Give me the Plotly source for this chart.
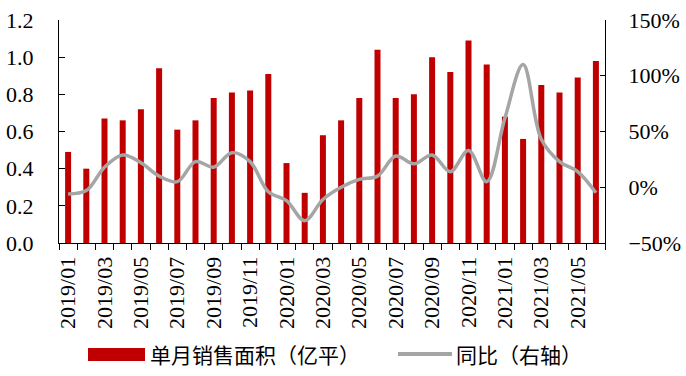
import plotly.graph_objects as go

months = ["2019/01","2019/02","2019/03","2019/04","2019/05","2019/06","2019/07","2019/08","2019/09","2019/10","2019/11","2019/12",
          "2020/01","2020/02","2020/03","2020/04","2020/05","2020/06","2020/07","2020/08","2020/09","2020/10","2020/11","2020/12",
          "2021/01","2021/02","2021/03","2021/04","2021/05","2021/06"]
sales_area = [0.49,0.40,0.67,0.66,0.72,0.94,0.61,0.66,0.78,0.81,0.82,0.91,
              0.43,0.27,0.58,0.66,0.78,1.04,0.78,0.80,1.00,0.92,1.09,0.96,
              0.68,0.56,0.85,0.81,0.89,0.98]
yoy_pct = [-6,-3,18,29,22,10,5,23,18,31,23,-4,
           -12,-30,-11,0,7,10,28,21,29,14,33,5,
           62,110,43,23,14,-5]
tick_text = [m if i % 2 == 0 else "" for i, m in enumerate(months)]

bar_name = "单月销售面积（亿平）"
line_name = "同比（右轴）"

serif = "Liberation Serif, Times New Roman, serif"
cjk = "Noto Sans CJK SC, sans-serif"

fig = go.Figure()
fig.add_trace(go.Bar(x=months, y=sales_area, name=bar_name, marker_color="#C00000",
                     marker_line_width=0, showlegend=False))
fig.add_trace(go.Scatter(x=months, y=yoy_pct, name=line_name, yaxis="y2", mode="lines",
                         line=dict(color="#A5A5A5", width=3.5, shape="spline", smoothing=1.0),
                         showlegend=False))

L, R, T, B = 59, 605, 20, 243
PW, PH = R - L, B - T

fig.update_layout(
    width=686, height=376,
    margin=dict(l=L, r=686 - R, t=T, b=376 - B),
    paper_bgcolor="white", plot_bgcolor="white",
    bargap=0.67,
    xaxis=dict(type="category", tickmode="array", tickvals=months, ticktext=tick_text,
               tickson="boundaries", ticks="outside", ticklen=6, tickcolor="black",
               tickangle=-90, showline=True, linecolor="black", linewidth=1,
               showgrid=False, automargin=False, ticklabelstandoff=4,
               tickfont=dict(family=serif, size=22, color="black")),
    yaxis=dict(range=[0, 1.2], dtick=0.2, tickformat=".1f", ticks="inside", ticklen=6,
               tickcolor="black", showline=True, linecolor="black", linewidth=1,
               showgrid=False, zeroline=False, automargin=False, ticklabelstandoff=20,
               tickfont=dict(family=serif, size=22, color="black")),
    yaxis2=dict(range=[-50, 150], dtick=50, ticksuffix="%", overlaying="y", side="right",
                ticks="inside", ticklen=5, tickcolor="black", showline=True,
                linecolor="black", linewidth=1, showgrid=False, zeroline=False,
                automargin=False, ticklabelstandoff=18,
                tickfont=dict(family=serif, size=22, color="black")),
)

def px_x(v):
    return (v - L) / PW

def px_y(v):
    return -(v - B) / PH

# custom legend
fig.add_shape(type="rect", xref="paper", yref="paper", x0=px_x(88), x1=px_x(145),
              y0=px_y(348), y1=px_y(361), fillcolor="#C00000", line_width=0)
fig.add_annotation(text=bar_name, xref="paper", yref="paper", x=px_x(148), y=px_y(354),
                   xanchor="left", yanchor="middle", showarrow=False,
                   font=dict(family=cjk, size=21, color="black"))
fig.add_shape(type="line", xref="paper", yref="paper", x0=px_x(398), x1=px_x(452),
              y0=px_y(354), y1=px_y(354), line=dict(color="#A5A5A5", width=4))
fig.add_annotation(text=line_name, xref="paper", yref="paper", x=px_x(454), y=px_y(354),
                   xanchor="left", yanchor="middle", showarrow=False,
                   font=dict(family=cjk, size=21, color="black"))

fig.write_html("out.html", config={"displayModeBar": False},
               post_script="document.body.style.margin='0';document.body.style.padding='0';"
                           "document.documentElement.style.overflow='hidden';")
